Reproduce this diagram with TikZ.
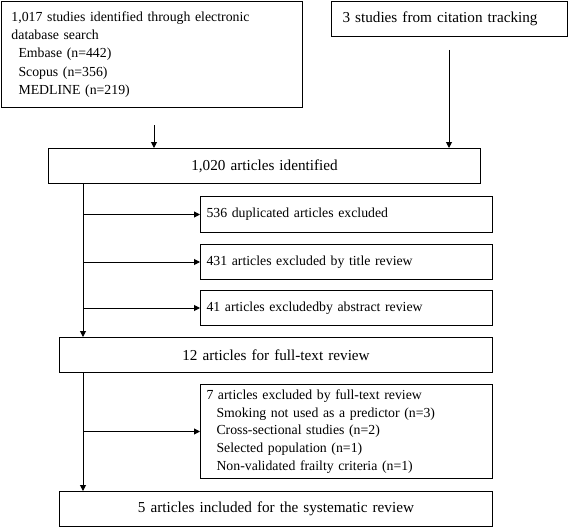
\documentclass[tikz,border=0pt]{standalone}
\usepackage{fontspec}
\setmainfont{Liberation Serif}
\usetikzlibrary{arrows.meta}
\begin{document}
\begin{tikzpicture}[x=1pt,y=-1pt,
 box/.style={draw,line width=1pt,rectangle,inner ysep=0pt,anchor=north west,font=\fontsize{13.8}{18.3}\selectfont},
 big/.style={font=\fontsize{15.2}{18.3}\selectfont},
 lbox/.style={box,align=left},
 cbox/.style={box,big,align=center,inner xsep=0pt},
 arr/.style={line width=1pt,-{Triangle[length=6pt,width=6pt]}}]
\useasboundingbox (0,0) rectangle (568,527);
\node[lbox,text width=281pt,inner xsep=10pt,minimum height=106pt] (db) at (1,1)
 {1,017 studies identified through electronic\\database search\\\hspace*{7pt}Embase (n=442)\\\hspace*{7pt}Scopus (n=356)\\\hspace*{7pt}MEDLINE (n=219)};
\node[lbox,big,text width=214pt,inner xsep=11pt,minimum height=35pt] (ct) at (331,1) {3 studies from citation tracking};
\node[cbox,text width=432pt,minimum height=35pt] (id) at (48,148) {1,020 articles identified};
\node[lbox,text width=280pt,inner xsep=6pt,minimum height=36pt] (e1) at (200,196) {536 duplicated articles excluded};
\node[lbox,text width=280pt,inner xsep=6pt,minimum height=35pt] (e2) at (200,244) {431 articles excluded by title review};
\node[lbox,text width=280pt,inner xsep=6pt,minimum height=35pt] (e3) at (200,290) {41 articles excludedby abstract review};
\node[cbox,text width=433pt,minimum height=35pt] (ft) at (59,337) {12 articles for full-text review};
\node[lbox,text width=280pt,inner xsep=6pt,minimum height=94pt,font=\fontsize{13.8}{17.6}\selectfont] (e4) at (200,384)
 {7 articles excluded by full-text review\\\hspace*{10pt}Smoking not used as a predictor (n=3)\\\hspace*{10pt}Cross-sectional studies (n=2)\\\hspace*{10pt}Selected population (n=1)\\\hspace*{10pt}Non-validated frailty criteria (n=1)};
\node[cbox,text width=433pt,minimum height=35pt] (inc) at (59,491) {5 articles included for the systematic review};
\coordinate (s1) at (154,125);
\coordinate (s2) at (449,50);
\coordinate (tx) at (83,0);
\draw[arr] (s1) -- (s1 |- id.north);
\draw[arr] (s2) -- (s2 |- id.north);
\draw[arr] (id.south -| tx) -- (ft.north -| tx);
\draw[arr] (e1.west -| tx) -- (e1.west);
\draw[arr] (e2.west -| tx) -- (e2.west);
\draw[arr] (e3.west -| tx) -- (e3.west);
\draw[arr] (ft.south -| tx) -- (inc.north -| tx);
\draw[arr] (e4.west -| tx) -- (e4.west);
\end{tikzpicture}
\end{document}
